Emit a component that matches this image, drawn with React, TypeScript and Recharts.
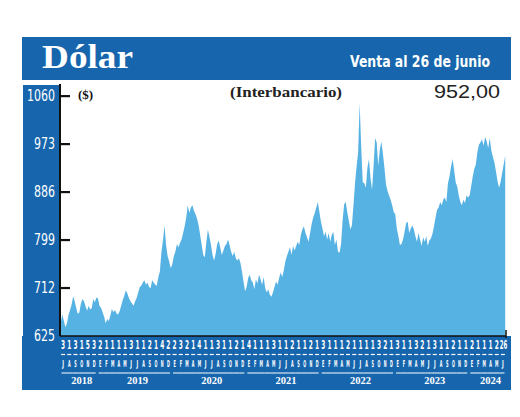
import { AreaChart, Area, XAxis, YAxis } from 'recharts';

// Dólar interbancario, Jul 2018 – 26 Jun 2024, ~4 readings per month
const v2018 = [
  650, 664, 652, 641, 648, 663, 672, 682, 697, 688, 676, 665,
  668, 684, 692, 688, 679, 671, 680, 673, 676, 692, 686, 695,
];
const v2019 = [
  693, 680, 676, 668, 660, 648, 656, 652, 662, 674, 668, 672,
  666, 664, 670, 680, 690, 698, 708, 702, 694, 688, 684, 680,
  688, 694, 704, 714, 716, 722, 726, 718, 722, 714, 712, 726,
  722, 718, 716, 732, 742, 778, 798, 826, 790, 770, 760, 748,
];
const v2020 = [
  755, 770, 778, 792, 786, 794, 800, 812, 824, 840, 862, 848,
  858, 862, 852, 846, 838, 826, 808, 790, 772, 768, 795, 818,
  805, 790, 772, 762, 774, 792, 798, 785, 772, 780, 788, 792,
  800, 790, 778, 770, 778, 766, 762, 766, 758, 742, 724, 706,
];
const v2021 = [
  714, 730, 736, 726, 722, 710, 728, 720, 736, 728, 718, 732,
  712, 704, 710, 700, 696, 704, 714, 724, 718, 730, 740, 732,
  744, 760, 770, 778, 786, 772, 788, 780, 788, 796, 790, 808,
  818, 824, 812, 804, 796, 812, 828, 840, 848, 858, 868, 850,
];
const v2022 = [
  832, 820, 806, 814, 800, 812, 796, 808, 814, 790, 800, 778,
  776, 792, 836, 864, 868, 850, 834, 818, 826, 862, 902, 932,
  958, 1047, 968, 904, 902, 894, 930, 946, 912, 890, 934, 984,
  976, 934, 962, 978, 956, 930, 900, 888, 880, 872, 862, 850,
];
const v2023 = [
  846, 820, 806, 790, 792, 800, 814, 830, 832, 812, 820, 826,
  818, 806, 796, 812, 800, 788, 804, 796, 806, 788, 798, 802,
  810, 824, 840, 854, 858, 868, 862, 872, 876, 868, 902, 914,
  932, 946, 926, 904, 896, 880, 868, 862, 872, 866, 880, 876,
];
const v2024 = [
  880, 896, 914, 928, 936, 958, 972, 976, 982, 970, 986, 978,
  966, 984, 962, 950, 940, 924, 906, 894, 904, 920, 936, 952,
];

// first trading day shown for every month, the last one is the closing date
const dayLabels = [
  '3', '1', '3', '1', '5', '3',
  '2', '1', '1', '1', '1', '3', '1', '1', '2', '1', '4', '2',
  '2', '3', '2', '1', '4', '1', '1', '3', '1', '1', '2', '1',
  '4', '1', '1', '1', '3', '1', '1', '2', '1', '1', '2', '1',
  '3', '1', '1', '1', '2', '1', '1', '1', '1', '3', '2', '1',
  '3', '1', '1', '3', '2', '1', '3', '1', '1', '2', '1', '1',
  '2', '1', '1', '1', '2', '26',
];
const monthLetters = ['J', 'A', 'S', 'O', 'N', 'D', 'E', 'F', 'M', 'A', 'M', 'J'];
const yearLabels = ['2018', '2019', '2020', '2021', '2022', '2023', '2024'];
const yearStart = [0, 6, 18, 30, 42, 54, 66];
const yTicks = [625, 712, 799, 886, 973, 1060];

const series = [...v2018, ...v2019, ...v2020, ...v2021, ...v2022, ...v2023, ...v2024]
  .map((v, k) => ({ t: (k + 0.5) / 4, v }));
const monthTicks = dayLabels.map((_, i) => i + 0.5);

const BLUE = '#1766ad';
const FILL = '#57b2e4';
const NARROW = '"Liberation Sans Narrow", "DejaVu Sans Condensed", "Arial Narrow", sans-serif';
const SERIF = '"Liberation Serif", "DejaVu Serif", serif';

const CHART_W = 490;
const MARGIN_R = 6;
const AXIS_W = 38;
const STEP = (CHART_W - MARGIN_R - AXIS_W) / 72;

function ValueTick(props: any) {
  const { x, y, payload } = props;
  return (
    <g>
      <text
        x={x - 5}
        y={y + 5}
        textAnchor="end"
        fill="#fff"
        fontSize={15}
        fontFamily={NARROW}
        textLength={String(payload.value).length * 7}
        lengthAdjust="spacingAndGlyphs"
      >
        {payload.value}
      </text>
      {payload.value !== 625 && (
        <line x1={x} x2={x + 10} y1={y} y2={y} stroke="#111" strokeWidth={2.2} />
      )}
    </g>
  );
}

function MonthTick(props: any) {
  const { x, y, payload } = props;
  const i = Math.floor(payload.value);
  const yi = yearStart.findIndex((s, k) => i >= s && (k === yearStart.length - 1 || i < yearStart[k + 1]));
  const first = yearStart[yi];
  const last = yi === yearStart.length - 1 ? dayLabels.length - 1 : yearStart[yi + 1] - 1;
  const left = i === first ? x - STEP / 2 + 1.5 : x - STEP / 2;
  const right = i === last ? x + STEP / 2 - 1.5 : x + STEP / 2;
  const day = dayLabels[i];
  const wide = day.length > 1;
  const letter = monthLetters[i % 12];
  return (
    <g>
      <text
        transform={`translate(${wide ? x + 0.5 : x},${y + 12.5}) scale(${wide ? 0.46 : 0.5},1)`}
        textAnchor="middle"
        fill="#fff"
        fontSize={13}
        fontWeight="bold"
        fontFamily={NARROW}
      >
        {day}
      </text>
      <line x1={x - 2} x2={x + 2} y1={y + 18.5} y2={y + 18.5} stroke="#fff" strokeWidth={1.2} />
      <text
        transform={`translate(${x},${y + 31}) scale(${letter === 'J' ? 0.55 : 0.4},1)`}
        textAnchor="middle"
        fill="#fff"
        fontSize={9.5}
        fontWeight="bold"
        fontFamily={NARROW}
      >
        {letter}
      </text>
      <line x1={left} x2={right} y1={y + 37} y2={y + 37} stroke="#fff" strokeWidth={1} />
      {i === first && (
        <text
          x={x + ((last - first + 1) / 2) * STEP}
          y={y + 48}
          textAnchor="middle"
          fill="#fff"
          fontSize={10.5}
          fontWeight="bold"
          fontFamily={SERIF}
        >
          {yearLabels[yi]}
        </text>
      )}
      {i === dayLabels.length - 1 && (
        <line x1={x + STEP / 2} x2={x + STEP / 2} y1={y - 6} y2={y + 2} stroke="#111" strokeWidth={1.5} />
      )}
    </g>
  );
}

export default function App() {
  return (
    <div style={{ position: 'absolute', left: 0, top: 0, width: 520, height: 417, background: '#fff' }}>
      <svg width={520} height={417} style={{ position: 'absolute', left: 0, top: 0 }}>
        <rect x={22} y={37} width={489} height={43} fill={BLUE} />
        <rect x={23} y={85} width={37} height={305} fill={BLUE} />
        <rect x={22} y={336} width={489} height={54} fill={BLUE} />
      </svg>
      <div style={{ position: 'absolute', left: 22, top: 80 }}>
        <AreaChart
          width={CHART_W}
          height={310}
          data={series}
          margin={{ top: 4, right: MARGIN_R, bottom: 0, left: 0 }}
        >
          <XAxis
            type="number"
            dataKey="t"
            domain={[0, 72]}
            ticks={monthTicks}
            interval={0}
            height={54}
            tickSize={0}
            tickMargin={0}
            tickLine={false}
            axisLine={{ stroke: '#111', strokeWidth: 1.5 }}
            tick={<MonthTick />}
            allowDataOverflow
          />
          <YAxis
            type="number"
            domain={[625, 1082]}
            ticks={yTicks}
            interval={0}
            width={AXIS_W}
            tickSize={0}
            tickMargin={0}
            tickLine={false}
            axisLine={{ stroke: '#111', strokeWidth: 2 }}
            tick={<ValueTick />}
            allowDataOverflow
          />
          <Area
            type="linear"
            dataKey="v"
            stroke="none"
            fill={FILL}
            fillOpacity={1}
            isAnimationActive={false}
          />
        </AreaChart>
      </div>
      <svg width={520} height={417} style={{ position: 'absolute', left: 0, top: 0, pointerEvents: 'none' }}>
        <text x={42} y={68} fill="#fff" fontSize={34} fontWeight="bold" fontFamily={SERIF} textLength={91} lengthAdjust="spacingAndGlyphs">
          Dólar
        </text>
        <text x={490} y={67} textAnchor="end" fill="#fff" fontSize={15} fontWeight="bold" fontFamily={NARROW} textLength={140} lengthAdjust="spacingAndGlyphs">
          Venta al 26 de junio
        </text>
        <text x={78} y={99} fill="#111" fontSize={13} fontWeight="bold" fontFamily={SERIF}>
          ($)
        </text>
        <text x={230} y={97} fill="#222" fontSize={15} fontWeight="bold" fontFamily={SERIF} textLength={112} lengthAdjust="spacingAndGlyphs">
          (Interbancario)
        </text>
        <text x={500} y={98} textAnchor="end" fill="#222" fontSize={18} fontFamily='"Liberation Sans", Arial, sans-serif' textLength={66} lengthAdjust="spacingAndGlyphs">
          952,00
        </text>
      </svg>
    </div>
  );
}
